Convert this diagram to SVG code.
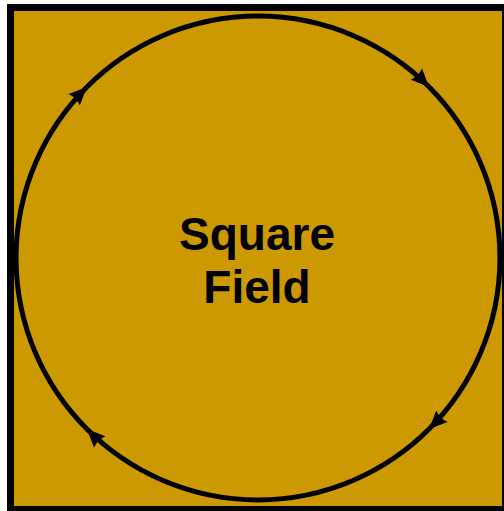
<svg xmlns="http://www.w3.org/2000/svg" width="504" height="511" viewBox="0 0 504 511">
<style>
.field{fill:#CC9900;stroke:#000;stroke-width:7}
.loop{fill:none;stroke:#000;stroke-width:5}
.lbl{font-family:"Liberation Sans",Arial,sans-serif;font-weight:bold;font-size:46px;fill:#000;text-anchor:middle}
</style>
<defs>
<marker id="ah" markerUnits="userSpaceOnUse" markerWidth="20" markerHeight="18" refX="18" refY="8" orient="auto" overflow="visible">
<path d="M0,0 L18,8 L0,16 L2,8 z" fill="#000"/>
</marker>
</defs>
<g id="square-field">
<rect class="field" x="10.5" y="7.5" width="495" height="502"/>
<text class="lbl" x="257" y="250">Square</text>
<text class="lbl" x="257" y="303">Field</text>
</g>
<g id="connectors">
<path class="loop" marker-end="url(#ah)" d="M86.9,429.1 A242,242 0 0 1 86.9,86.9"/>
<path class="loop" marker-end="url(#ah)" d="M86.9,86.9 A242,242 0 0 1 429.1,86.9"/>
<path class="loop" marker-end="url(#ah)" d="M429.1,86.9 A242,242 0 0 1 429.1,429.1"/>
<path class="loop" marker-end="url(#ah)" d="M429.1,429.1 A242,242 0 0 1 86.9,429.1"/>
</g>
</svg>
